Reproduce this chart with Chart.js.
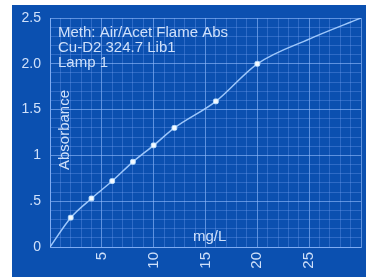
<!DOCTYPE html>
<html>
<head>
<meta charset="utf-8">
<script src="https://cdn.jsdelivr.net/npm/chart.js@4.4.1/dist/chart.umd.min.js"></script>
<style>
  html, body { margin: 0; padding: 0; background: #ffffff; }
  #wrap { width: 366px; height: 277px; position: relative; }
</style>
</head>
<body>
<div id="wrap"><canvas id="c" width="366" height="277"></canvas></div>
<script>
// ---- data ----
const standardsConc = [2, 4, 6, 8, 10, 12, 16, 20];
const standardsAbs  = [0.32, 0.53, 0.72, 0.93, 1.11, 1.30, 1.59, 2.00];
const curveConc = [0, 2, 4, 6, 8, 10, 12, 16, 20, 25, 30];
const curveAbs  = [0, 0.32, 0.53, 0.72, 0.93, 1.11, 1.30, 1.59, 2.00, 2.27, 2.50];
const xTickValues = [5, 10, 15, 20, 25];
const xTickLabels = ['5', '10', '15', '20', '25'];
const yTickValues = [0, 0.5, 1, 1.5, 2, 2.5];
const yTickLabels = ['0', '.5', '1', '1.5', '2.0', '2.5'];
const infoLines = ['Meth: Air/Acet Flame Abs', 'Cu-D2 324.7 Lib1', 'Lamp 1'];
const yTitle = 'Absorbance';
const xTitle = 'mg/L';

const BG = '#0b50b0';
const MAJOR = 'rgba(150,190,255,0.6)';
const MINOR = 'rgba(120,165,245,0.32)';
const TXT = '#cfe0fa';
const FONT = '"Liberation Sans", Arial, sans-serif';

const toPts = (xs, ys) => xs.map((x, i) => ({ x: x, y: ys[i] }));

const bgPlugin = {
  id: 'bg',
  beforeDraw(chart) {
    const ctx = chart.ctx;
    ctx.save();
    ctx.fillStyle = '#ffffff';
    ctx.fillRect(0, 0, chart.width, chart.height);
    ctx.fillStyle = BG;
    ctx.fillRect(12, 5, chart.width - 12, chart.height - 5);
    ctx.restore();
  }
};

const textPlugin = {
  id: 'texts',
  afterDatasetsDraw(chart) {
    const ctx = chart.ctx;
    const a = chart.chartArea;
    ctx.save();
    ctx.fillStyle = TXT;
    ctx.font = '15px ' + FONT;
    ctx.textAlign = 'left';
    ctx.textBaseline = 'alphabetic';
    infoLines.forEach((t, i) => ctx.fillText(t, a.left + 8, a.top + 19 + i * 15));
    // y title rotated, inside plot
    ctx.save();
    ctx.translate(a.left + 15, a.top + 112);
    ctx.rotate(-Math.PI / 2);
    ctx.textAlign = 'center';
    ctx.textBaseline = 'middle';
    ctx.fillText(yTitle, 0, 0);
    ctx.restore();
    // x title inside plot
    ctx.textAlign = 'left';
    ctx.fillText(xTitle, a.left + 143, a.bottom - 6);
    ctx.restore();
  }
};

new Chart(document.getElementById('c'), {
  type: 'scatter',
  data: {
    datasets: [
      {
        label: 'curve',
        data: toPts(curveConc, curveAbs),
        showLine: true,
        borderColor: 'rgba(165,205,255,0.95)',
        borderWidth: 1.5,
        pointRadius: 0,
        cubicInterpolationMode: 'monotone',
        order: 2
      },
      {
        label: 'standards',
        data: toPts(standardsConc, standardsAbs),
        showLine: false,
        pointStyle: 'rectRounded',
        pointRadius: 2.8,
        backgroundColor: '#f4faff',
        borderColor: 'rgba(190,225,255,0.9)',
        borderWidth: 1,
        order: 1
      }
    ]
  },
  options: {
    responsive: false,
    animation: false,
    devicePixelRatio: 1,
    layout: { padding: { left: 12, right: 3, top: 18, bottom: 0 } },
    plugins: { legend: { display: false }, tooltip: { enabled: false } },
    scales: {
      x: {
        type: 'linear',
        min: 0, max: 30,
        afterFit(s) { s.height = 30; s.paddingRight = 0; s.paddingLeft = 0; },
        ticks: {
          stepSize: 1,
          autoSkip: false,
          maxRotation: 90, minRotation: 90,
          padding: 5,
          color: TXT,
          font: { family: FONT, size: 15 },
          callback(v) {
            const i = xTickValues.indexOf(Math.round(v));
            return i >= 0 && Math.abs(v - Math.round(v)) < 1e-6 ? xTickLabels[i] : '';
          }
        },
        grid: {
          drawTicks: false,
          color(c) {
            const v = Math.round(c.tick.value);
            return v % 5 === 0 ? MAJOR : MINOR;
          },
          lineWidth: 1
        },
        border: { display: true, color: MAJOR }
      },
      y: {
        min: 0, max: 2.5,
        afterFit(s) { s.width = 38; s.paddingTop = 0; s.paddingBottom = 0; },
        ticks: {
          stepSize: 0.1,
          autoSkip: false,
          padding: 9,
          color: TXT,
          font: { family: FONT, size: 14 },
          callback(v) {
            const k = Math.round(v * 10);
            const i = yTickValues.findIndex(t => Math.round(t * 10) === k);
            return i >= 0 ? yTickLabels[i] : '';
          }
        },
        grid: {
          drawTicks: false,
          color(c) {
            const k = Math.round(c.tick.value * 10);
            return k % 5 === 0 ? MAJOR : MINOR;
          },
          lineWidth: 1
        },
        border: { display: true, color: MAJOR }
      }
    }
  },
  plugins: [bgPlugin, textPlugin]
});
</script>
</body>
</html>
